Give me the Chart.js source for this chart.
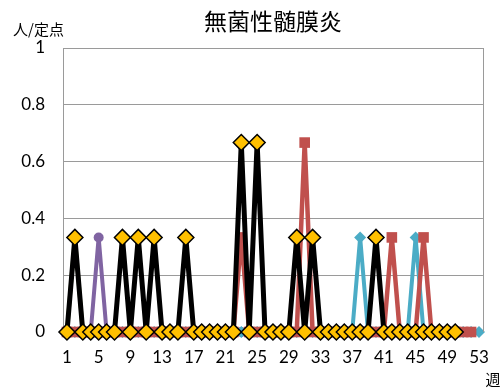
<!DOCTYPE html>
<html>
<head>
<meta charset="utf-8">
<script src="https://cdn.jsdelivr.net/npm/chart.js@4/dist/chart.umd.min.js"></script>
<style>
  html, body { margin: 0; padding: 0; background: #ffffff; }
  canvas { display: block; }
</style>
</head>
<body>
<canvas id="chart" width="504" height="388"></canvas>
<script>
// 週番号（カテゴリ）
const weeks = [1, 2, 3, 4, 5, 6, 7, 8, 9, 10, 11, 12, 13, 14, 15, 16, 17, 18, 19, 20,
  21, 22, 23, 24, 25, 26, 27, 28, 29, 30, 31, 32, 33, 34, 35, 36, 37, 38, 39, 40,
  41, 42, 43, 44, 45, 46, 47, 48, 49, 50, 51, 52, 53];

// 定点当たり報告数（人/定点）
const currentYear = [0, 0.333, 0, 0, 0, 0, 0, 0.333, 0, 0.333,
  0, 0.333, 0, 0, 0, 0.333, 0, 0, 0, 0,
  0, 0, 0.667, 0, 0.667, 0, 0, 0, 0, 0.333,
  0, 0.333, 0, 0, 0, 0, 0, 0, 0, 0.333,
  0, 0, 0, 0, 0, 0, 0, 0, 0, 0];
const prevYear1 = [0, 0, 0, 0, 0, 0, 0, 0, 0, 0,
  0, 0, 0, 0, 0, 0, 0, 0, 0, 0,
  0, 0, 0.333, 0, 0, 0, 0, 0, 0, 0,
  0.667, 0, 0, 0, 0, 0, 0, 0, 0, 0,
  0, 0.333, 0, 0, 0, 0.333, 0, 0, 0, 0,
  0, 0];
const prevYear2 = [0, 0, 0, 0, 0, 0, 0, 0, 0, 0,
  0, 0, 0, 0, 0, 0, 0, 0, 0, 0,
  0, 0, 0, 0, 0, 0, 0, 0, 0, 0,
  0, 0, 0, 0, 0, 0, 0, 0.333, 0, 0,
  0, 0, 0, 0, 0.333, 0, 0, 0, 0, 0,
  0, 0, 0];
const prevYear3 = [0, 0, 0, 0, 0.333, 0, 0, 0, 0, 0,
  0, 0, 0, 0, 0, 0, 0, 0, 0, 0,
  0, 0, 0, 0, 0, 0, 0, 0, 0, 0,
  0, 0, 0, 0, 0, 0, 0, 0, 0, 0,
  0, 0, 0, 0, 0, 0, 0, 0, 0, 0,
  0, 0];
const prevYear4 = [0, 0.333, 0, 0, 0, 0, 0, 0, 0, 0,
  0, 0, 0, 0, 0, 0, 0, 0, 0, 0,
  0, 0, 0, 0, 0, 0, 0, 0, 0, 0,
  0, 0, 0, 0, 0, 0, 0, 0, 0, 0,
  0, 0, 0, 0, 0, 0, 0, 0, 0, 0,
  0, 0];

const yTicks = [0, 0.2, 0.4, 0.6, 0.8, 1];

const FONT = "'Noto Sans CJK JP', 'Noto Sans', sans-serif";
const NUM_FONT = "Lato, 'Noto Sans', sans-serif";
const GRID = '#9a9a9a';

// タイトル・軸見出し・プロット枠
const decorations = {
  id: 'decorations',
  afterDraw(chart) {
    const { ctx, chartArea } = chart;
    ctx.save();
    ctx.strokeStyle = GRID;
    ctx.lineWidth = 1;
    ctx.beginPath();
    ctx.moveTo(Math.round(chartArea.right) + 0.5, chartArea.top);
    ctx.lineTo(Math.round(chartArea.right) + 0.5, chartArea.bottom);
    ctx.stroke();

    ctx.fillStyle = '#000000';
    ctx.textBaseline = 'middle';
    ctx.font = '23px ' + FONT;
    ctx.textAlign = 'center';
    ctx.fillText('無菌性髄膜炎', 273, 21);

    ctx.font = '15px ' + FONT;
    ctx.textAlign = 'left';
    ctx.fillText('人/定点', 13, 29);

    ctx.textAlign = 'center';
    ctx.fillText('週', 493, 379);
    ctx.restore();
  }
};

new Chart(document.getElementById('chart'), {
  type: 'line',
  data: {
    labels: weeks,
    datasets: [
      {
        label: '今年',
        data: currentYear,
        borderColor: '#000000',
        borderWidth: 5,
        pointStyle: 'rectRot',
        pointRadius: 8,
        pointBackgroundColor: '#FFC000',
        pointBorderColor: '#000000',
        pointBorderWidth: 1.5,
        clip: false
      },
      {
        label: '前年',
        data: prevYear1,
        borderColor: '#C0504D',
        borderWidth: 4.5,
        pointStyle: 'rect',
        pointRadius: 7.5,
        pointBackgroundColor: '#C0504D',
        pointBorderColor: '#C0504D',
        pointBorderWidth: 0,
        clip: false
      },
      {
        label: '2年前',
        data: prevYear2,
        borderColor: '#4BACC6',
        borderWidth: 4,
        pointStyle: 'rectRot',
        pointRadius: 6,
        pointBackgroundColor: '#4BACC6',
        pointBorderColor: '#4BACC6',
        pointBorderWidth: 0,
        clip: false
      },
      {
        label: '3年前',
        data: prevYear3,
        borderColor: '#8064A2',
        borderWidth: 4,
        pointStyle: 'circle',
        pointRadius: 5,
        pointBackgroundColor: '#8064A2',
        pointBorderColor: '#8064A2',
        pointBorderWidth: 0,
        clip: false
      },
      {
        label: '4年前',
        data: prevYear4,
        borderColor: '#9BBB59',
        borderWidth: 4,
        pointStyle: 'triangle',
        pointRadius: 5,
        pointBackgroundColor: '#9BBB59',
        pointBorderColor: '#9BBB59',
        pointBorderWidth: 0,
        clip: false
      }
    ]
  },
  options: {
    responsive: false,
    animation: false,
    layout: { padding: { top: 48, right: 15, left: 0, bottom: 0 } },
    plugins: {
      legend: { display: false },
      title: { display: false },
      tooltip: { enabled: false }
    },
    elements: { line: { tension: 0 } },
    scales: {
      x: {
        type: 'category',
        offset: true,
        grid: { display: false, drawTicks: false },
        border: { display: true, color: GRID, width: 1 },
        ticks: {
          autoSkip: false,
          maxRotation: 0,
          padding: 15,
          color: '#000000',
          font: { family: NUM_FONT, size: 17 },
          callback(value, index) {
            return index % 4 === 0 ? String(weeks[index]) : '';
          }
        },
        afterFit(scale) { scale.height = 56; }
      },
      y: {
        min: 0,
        max: 1,
        afterBuildTicks(scale) {
          scale.ticks = yTicks.map(v => ({ value: v }));
        },
        grid: { color: GRID, lineWidth: 1, drawTicks: false },
        border: { display: true, color: GRID, width: 1 },
        ticks: {
          padding: 18,
          color: '#000000',
          font: { family: NUM_FONT, size: 17 },
          callback(value) { return String(Number(value.toFixed(1))); }
        },
        afterFit(scale) { scale.width = 63; }
      }
    }
  },
  plugins: [decorations]
});
</script>
</body>
</html>
